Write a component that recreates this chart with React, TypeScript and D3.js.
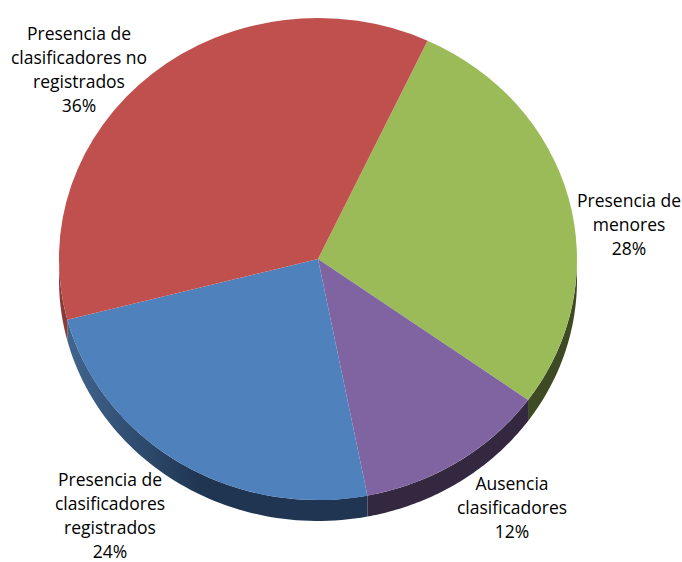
import * as d3 from "d3";
import { useEffect, useRef } from "react";

// slices in drawing order (clockwise from the red/green boundary)
const categories = [
  ["Presencia de", "menores"],
  ["Ausencia", "clasificadores"],
  ["Presencia de", "clasificadores", "registrados"],
  ["Presencia de", "clasificadores no", "registrados"],
];
const values = [28, 12, 24, 36];
const topColors = ["#9BBB59", "#8064A2", "#4F81BD", "#C0504D"];
const sideColors = ["#3D4A23", "#33283F", "url(#blueSide)", "#8A3A37"];
// label anchor (center x, first baseline)
const labelPos = [
  [629, 207],
  [512, 490],
  [110, 486],
  [79, 40],
];

export default function App() {
  const ref = useRef<SVGSVGElement>(null);

  useEffect(() => {
    if (!ref.current) return;
    const svg = d3.select(ref.current);
    svg.selectAll("*").remove();

    const width = 682;
    const height = 562;
    const cx = 318;
    const cy = 259;
    const rx = 259;
    const ry = 241;
    const depth = 21;
    const start = (25 * Math.PI) / 180;

    svg.attr("width", width).attr("height", height);

    const defs = svg.append("defs");
    const grad = defs
      .append("linearGradient")
      .attr("id", "blueSide")
      .attr("gradientUnits", "userSpaceOnUse")
      .attr("x1", 60)
      .attr("x2", 200)
      .attr("y1", 0)
      .attr("y2", 0);
    grad.append("stop").attr("offset", 0).attr("stop-color", "#436892");
    grad.append("stop").attr("offset", 1).attr("stop-color", "#1F3552");

    const pie = d3
      .pie<number>()
      .sort(null)
      .value((d) => d)
      .startAngle(start)
      .endAngle(start + Math.PI * 2);
    const arcs = pie(values);

    const pt = (a: number, dy = 0): [number, number] => [
      cx + rx * Math.sin(a),
      cy - ry * Math.cos(a) + dy,
    ];
    const line = d3.line();

    // sides (only the front half of the ellipse shows)
    const sides = svg.append("g");
    arcs.forEach((d, i) => {
      const s = Math.max(d.startAngle, Math.PI / 2);
      const e = Math.min(d.endAngle, (Math.PI * 3) / 2);
      if (e <= s) return;
      const steps = d3.range(0, 61).map((k) => s + ((e - s) * k) / 60);
      const pts = [
        ...steps.map((a) => pt(a)),
        ...steps.reverse().map((a) => pt(a, depth)),
      ];
      sides
        .append("path")
        .attr("d", line(pts) + "Z")
        .attr("fill", sideColors[i]);
    });

    // top faces
    const arc = d3.arc<d3.PieArcDatum<number>>().innerRadius(0).outerRadius(1);
    svg
      .append("g")
      .attr("transform", `translate(${cx},${cy}) scale(${rx},${ry})`)
      .selectAll("path")
      .data(arcs)
      .enter()
      .append("path")
      .attr("d", arc)
      .attr("fill", (_, i) => topColors[i]);

    // labels
    const labels = svg
      .append("g")
      .attr("font-family", "'Open Sans', Lato, sans-serif")
      .attr("font-size", "17.5px")
      .attr("fill", "#000")
      .attr("text-anchor", "middle");
    categories.forEach((lines, i) => {
      const t = labels
        .append("text")
        .attr("x", labelPos[i][0])
        .attr("y", labelPos[i][1]);
      [...lines, `${values[i]}%`].forEach((l, j) => {
        t.append("tspan")
          .attr("x", labelPos[i][0])
          .attr("dy", j === 0 ? 0 : 24)
          .text(l);
      });
    });
  }, []);

  return (
    <svg
      ref={ref}
      style={{ position: "absolute", left: 0, top: 0, display: "block" }}
    />
  );
}
